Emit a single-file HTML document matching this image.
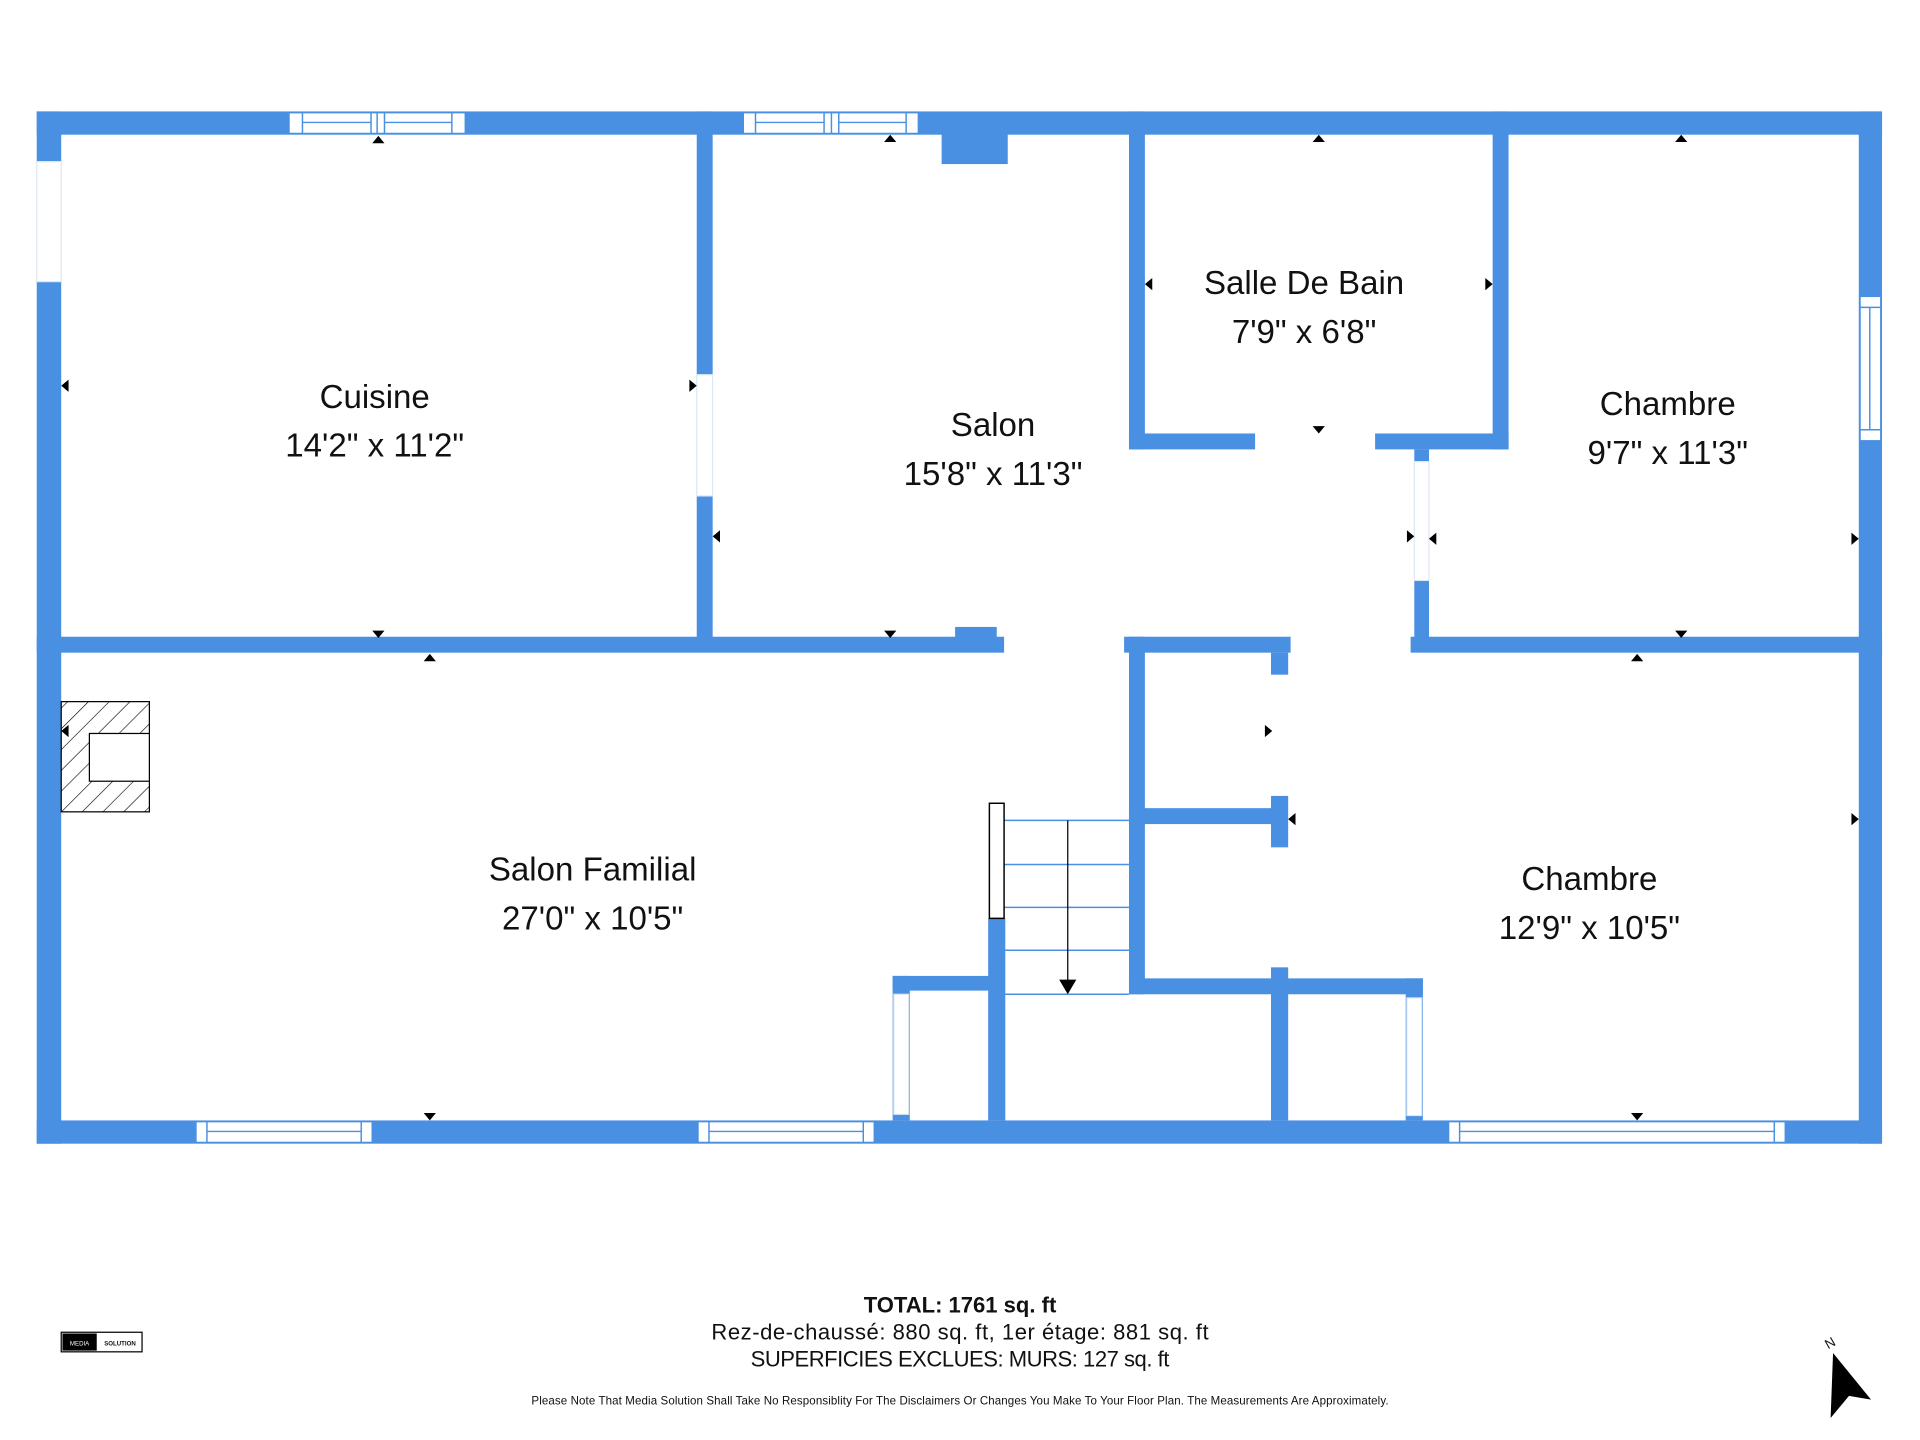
<!DOCTYPE html>
<html><head><meta charset="utf-8"><style>
html,body{margin:0;padding:0;background:#fff;width:1920px;height:1440px;overflow:hidden}
svg{display:block}
text{font-family:"Liberation Sans","DejaVu Sans",sans-serif;fill:#111}
</style></head><body>
<svg width="1920" height="1440" viewBox="0 0 1568 1176" xmlns="http://www.w3.org/2000/svg">
<defs>
<pattern id="h" width="12" height="12" patternUnits="userSpaceOnUse" patternTransform="rotate(45)"><line x1="0" y1="0" x2="0" y2="12" stroke="#000" stroke-width="1"/></pattern>
</defs>
<g fill="#4a90e2">
<rect x="30" y="91" width="1507" height="19"/>
<rect x="30" y="915" width="1507" height="19"/>
<rect x="30" y="91" width="20" height="843"/>
<rect x="1518" y="91" width="19" height="843"/>
<rect x="569" y="91" width="13" height="436"/>
<rect x="30" y="520" width="790" height="13"/>
<rect x="780" y="512" width="34" height="10"/>
<rect x="918" y="520" width="136" height="13"/>
<rect x="1152" y="520" width="385" height="13"/>
<rect x="769" y="108" width="54" height="26"/>
<rect x="922" y="91" width="13" height="276"/>
<rect x="922" y="354" width="103" height="13"/>
<rect x="1123" y="354" width="109" height="13"/>
<rect x="1219" y="91" width="13" height="276"/>
<rect x="1155" y="367" width="12" height="160"/>
<rect x="922" y="520" width="13" height="292"/>
<rect x="922" y="660" width="128" height="13"/>
<rect x="1038" y="533" width="14" height="18"/>
<rect x="1038" y="650" width="14" height="42"/>
<rect x="1038" y="790" width="14" height="125"/>
<rect x="922" y="799" width="240" height="13"/>
<rect x="729" y="797" width="91" height="12"/>
<rect x="807" y="750" width="14" height="165"/>
<rect x="729" y="797" width="14" height="118"/>
<rect x="1148" y="799" width="14" height="116"/>
</g>
<g fill="#fff" stroke="#dde8f5" stroke-width="1">
<rect x="30" y="132" width="20" height="98"/>
<rect x="569" y="306" width="13" height="99"/>
<rect x="1155" y="377" width="12" height="97"/>
<rect x="730" y="812" width="12" height="98"/>
<rect x="1149" y="815" width="12" height="96"/>
</g>
<g fill="#fff" stroke="#4a90e2" stroke-width="1.2">
<rect x="236" y="92" width="144" height="17"/><line x1="247" y1="92" x2="247" y2="109"/><line x1="369" y1="92" x2="369" y2="109"/><line x1="303" y1="92" x2="303" y2="109"/><line x1="314" y1="92" x2="314" y2="109"/><line x1="247" y1="100" x2="303" y2="100"/><line x1="314" y1="100" x2="369" y2="100"/><line x1="308" y1="92" x2="308" y2="109"/>
<rect x="607" y="92" width="143" height="17"/><line x1="617" y1="92" x2="617" y2="109"/><line x1="740" y1="92" x2="740" y2="109"/><line x1="673" y1="92" x2="673" y2="109"/><line x1="685" y1="92" x2="685" y2="109"/><line x1="617" y1="100" x2="673" y2="100"/><line x1="685" y1="100" x2="740" y2="100"/><line x1="679" y1="92" x2="679" y2="109"/>
<rect x="160" y="916" width="144" height="17"/><line x1="169" y1="916" x2="169" y2="933"/><line x1="295" y1="916" x2="295" y2="933"/><line x1="169" y1="924" x2="295" y2="924"/>
<rect x="570" y="916" width="144" height="17"/><line x1="579" y1="916" x2="579" y2="933"/><line x1="705" y1="916" x2="705" y2="933"/><line x1="579" y1="924" x2="705" y2="924"/>
<rect x="1183" y="916" width="275" height="17"/><line x1="1192" y1="916" x2="1192" y2="933"/><line x1="1449" y1="916" x2="1449" y2="933"/><line x1="1192" y1="924" x2="1449" y2="924"/>
<rect x="1519" y="242" width="17" height="118"/><line x1="1519" y1="251" x2="1536" y2="251"/><line x1="1519" y1="351" x2="1536" y2="351"/><line x1="1527" y1="251" x2="1527" y2="351"/>
</g>
<g stroke="#4a90e2" stroke-width="1.2">
<line x1="820" y1="670" x2="922" y2="670"/><line x1="820" y1="706" x2="922" y2="706"/><line x1="820" y1="741" x2="922" y2="741"/><line x1="820" y1="776" x2="922" y2="776"/><line x1="820" y1="812" x2="922" y2="812"/>
</g>
<rect x="808" y="656" width="12" height="94" fill="#fff" stroke="#000" stroke-width="1.2"/>
<line x1="872" y1="670" x2="872" y2="802" stroke="#000" stroke-width="1"/>
<polygon points="865,800 879,800 872,812" fill="#000"/>
<rect x="50" y="573" width="72" height="90" fill="url(#h)" stroke="#000" stroke-width="1"/>
<rect x="73" y="599" width="49" height="39" fill="#fff" stroke="#000" stroke-width="1"/>
<g fill="#000">
<polygon points="304,117 314,117 309,111"/><polygon points="722,116 732,116 727,110"/><polygon points="1072,116 1082,116 1077,110"/><polygon points="1368,116 1378,116 1373,110"/>
<polygon points="304,515 314,515 309,521"/><polygon points="722,515 732,515 727,521"/><polygon points="1368,515 1378,515 1373,521"/><polygon points="1072,348 1082,348 1077,354"/>
<polygon points="346,540 356,540 351,534"/><polygon points="1332,540 1342,540 1337,534"/>
<polygon points="346,909 356,909 351,915"/><polygon points="1332,909 1342,909 1337,915"/>
<polygon points="56,310 56,320 50,315"/><polygon points="563,310 563,320 569,315"/><polygon points="588,433 588,443 582,438"/><polygon points="1149,433 1149,443 1155,438"/><polygon points="1173,435 1173,445 1167,440"/><polygon points="1512,435 1512,445 1518,440"/>
<polygon points="941,227 941,237 935,232"/><polygon points="1213,227 1213,237 1219,232"/>
<polygon points="56,592 56,602 50,597"/><polygon points="1033,592 1033,602 1039,597"/><polygon points="1058,664 1058,674 1052,669"/><polygon points="1512,664 1512,674 1518,669"/>
</g>
<g font-size="27" text-anchor="middle">
<text x="306" y="333">Cuisine</text><text x="306" y="373">14'2" x 11'2"</text>
<text x="811" y="356">Salon</text><text x="811" y="396">15'8" x 11'3"</text>
<text x="1065" y="240">Salle De Bain</text><text x="1065" y="280">7'9" x 6'8"</text>
<text x="1362" y="339">Chambre</text><text x="1362" y="379">9'7" x 11'3"</text>
<text x="484" y="719">Salon Familial</text><text x="484" y="759">27'0" x 10'5"</text>
<text x="1298" y="727">Chambre</text><text x="1298" y="767">12'9" x 10'5"</text>
</g>
<g text-anchor="middle" font-size="18">
<text x="784" y="1072" font-weight="bold">TOTAL: 1761 sq. ft</text>
<text x="784" y="1094" textLength="406">Rez-de-chaussé: 880 sq. ft, 1er étage: 881 sq. ft</text>
<text x="784" y="1116" textLength="342">SUPERFICIES EXCLUES: MURS: 127 sq. ft</text>
<text x="784" y="1147" font-size="9.4" textLength="700">Please Note That Media Solution Shall Take No Responsiblity For The Disclaimers Or Changes You Make To Your Floor Plan. The Measurements Are Approximately.</text>
</g>
<rect x="50" y="1088" width="66" height="16" fill="#fff" stroke="#000" stroke-width="1"/>
<rect x="51" y="1089" width="28" height="14" fill="#000"/>
<text x="65" y="1099" font-size="5" style="fill:#fff" text-anchor="middle">MEDIA</text>
<text x="98" y="1099" font-size="5" text-anchor="middle" font-weight="bold">SOLUTION</text>
<text x="1493" y="1102" font-size="11" transform="rotate(-30 1493 1102)">N</text>
<polygon points="1497,1105 1528,1143 1510,1140 1495,1158" fill="#000"/>
</svg>
</body></html>
